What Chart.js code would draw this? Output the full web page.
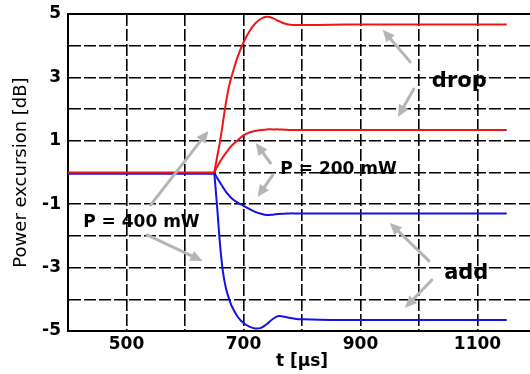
<!DOCTYPE html>
<html>
<head>
<meta charset="utf-8">
<script src="https://cdn.jsdelivr.net/npm/chart.js@4/dist/chart.umd.min.js"></script>
<style>
  html, body { margin: 0; padding: 0; background: #fff; overflow: hidden; }
  #wrap { position: relative; width: 545px; height: 374px; }
</style>
</head>
<body>
<div id="wrap"><canvas id="chart" width="545" height="374"></canvas></div>
<script>
// time axis [µs] for the transients, starting at the switching instant
const times = [650, 655, 660, 665, 670, 675, 680, 690, 700, 710, 720, 730, 740, 750, 760, 770, 780, 790, 800, 850, 900, 1000, 1100, 1150];

// steady state before switching
const steadyTimes = [400, 650];
const steadyLevel = [0, 0];

// power excursion [dB]
const drop400 = [0, 0.5, 1.0, 1.6, 2.2, 2.7, 3.05, 3.65, 4.1, 4.45, 4.7, 4.85, 4.91, 4.87, 4.78, 4.7, 4.66, 4.65, 4.65, 4.66, 4.67, 4.67, 4.67, 4.67];
const drop200 = [0, 0.18, 0.34, 0.49, 0.62, 0.74, 0.85, 1.02, 1.17, 1.26, 1.31, 1.34, 1.36, 1.36, 1.36, 1.35, 1.34, 1.34, 1.34, 1.34, 1.34, 1.34, 1.34, 1.34];
const add200 = [0, -0.17, -0.32, -0.47, -0.61, -0.72, -0.82, -0.95, -1.05, -1.15, -1.24, -1.3, -1.34, -1.33, -1.31, -1.3, -1.29, -1.29, -1.29, -1.29, -1.29, -1.29, -1.29, -1.29];
const add400 = [0, -1.1, -2.3, -3.15, -3.65, -3.97, -4.22, -4.55, -4.75, -4.86, -4.92, -4.9, -4.78, -4.62, -4.53, -4.55, -4.59, -4.62, -4.63, -4.65, -4.65, -4.65, -4.65, -4.65];

const xTickLabels = [500, 700, 900, 1100];
const yTickLabels = [5, 3, 1, -1, -3, -5];

const RED = "rgb(236,22,22)";
const BLUE = "rgb(18,18,226)";

const toPoints = (xs, ys) => xs.map((x, i) => ({ x: x, y: ys[i] }));

// grey annotation arrows: tail t, tail dB, head t, head dB
const arrows = [
    [541, -1.03, 640, 1.31],
    [535, -1.97, 630, -2.79],
    [746, 0.3, 721, 0.93],
    [750, -0.08, 724, -0.77],
    [985, 3.49, 938, 4.5],
    [991, 2.63, 964, 1.75],
    [1017, -2.79, 950, -1.59],
    [1022, -3.39, 976, -4.27]
];

const notes = [
    { text: "P = 400 mW", t: 426, v: -1.72, size: 17 },
    { text: "P = 200 mW", t: 763, v: -0.05, size: 17 },
    { text: "drop", t: 1022, v: 2.7, size: 21 },
    { text: "add", t: 1043, v: -3.36, size: 21 }
];

const annotate = {
    id: "annotate",
    afterDatasetsDraw(chart) {
        const ctx = chart.ctx;
        const xs = chart.scales.x;
        const ys = chart.scales.y;
        ctx.save();
        ctx.strokeStyle = "#b5b5b5";
        ctx.fillStyle = "#b5b5b5";
        ctx.lineWidth = 3;
        ctx.lineCap = "round";
        arrows.forEach(a => {
            const x1 = xs.getPixelForValue(a[0]), y1 = ys.getPixelForValue(a[1]);
            const x2 = xs.getPixelForValue(a[2]), y2 = ys.getPixelForValue(a[3]);
            const ang = Math.atan2(y2 - y1, x2 - x1);
            const len = 12, half = 5.5;
            const bx = x2 - len * Math.cos(ang), by = y2 - len * Math.sin(ang);
            ctx.beginPath();
            ctx.moveTo(x1, y1);
            ctx.lineTo(bx, by);
            ctx.stroke();
            ctx.beginPath();
            ctx.moveTo(x2, y2);
            ctx.lineTo(bx + half * Math.sin(ang), by - half * Math.cos(ang));
            ctx.lineTo(bx - half * Math.sin(ang), by + half * Math.cos(ang));
            ctx.closePath();
            ctx.fill();
        });
        ctx.fillStyle = "#000";
        ctx.textAlign = "left";
        ctx.textBaseline = "alphabetic";
        notes.forEach(n => {
            ctx.font = "bold " + n.size + "px 'DejaVu Sans'";
            ctx.fillText(n.text, xs.getPixelForValue(n.t), ys.getPixelForValue(n.v));
        });
        ctx.restore();
    }
};

const lineStyle = { pointRadius: 0, borderWidth: 2, fill: false, tension: 0.35 };

// first dataset is drawn on top, so red goes first
new Chart(document.getElementById("chart"), {
    type: "line",
    data: {
        datasets: [
            Object.assign({ data: toPoints(steadyTimes, steadyLevel), borderColor: RED }, lineStyle),
            Object.assign({ data: toPoints(times, drop400), borderColor: RED }, lineStyle),
            Object.assign({ data: toPoints(times, drop200), borderColor: RED }, lineStyle),
            Object.assign({ data: toPoints(times, add400), borderColor: BLUE }, lineStyle),
            Object.assign({ data: toPoints(times, add200), borderColor: BLUE }, lineStyle),
            Object.assign({ data: toPoints(steadyTimes, steadyLevel.map(v => v - 0.04)), borderColor: BLUE }, lineStyle)
        ]
    },
    options: {
        responsive: false,
        animation: false,
        devicePixelRatio: 1,
        layout: { padding: { top: 14, right: 9, left: 0, bottom: 0 } },
        plugins: { legend: { display: false }, tooltip: { enabled: false } },
        scales: {
            x: {
                type: "linear",
                min: 400,
                max: 1200,
                afterFit: s => { s.height = 43; s.paddingLeft = 0; s.paddingRight = 0; },
                ticks: {
                    stepSize: 100,
                    padding: 3,
                    color: "#000",
                    font: { family: "DejaVu Sans", size: 17, weight: "bold" },
                    callback: v => xTickLabels.includes(v) ? String(v) : ""
                },
                grid: { color: "#000", lineWidth: 1.6, drawTicks: false },
                border: { display: true, color: "#000", width: 2, dash: [12, 3] },
                title: {
                    display: true,
                    text: "t [µs]",
                    color: "#000",
                    padding: { top: 0, bottom: 2 },
                    font: { family: "DejaVu Sans", size: 17, weight: "bold" }
                }
            },
            x2: {
                type: "linear",
                position: "top",
                min: 400,
                max: 1200,
                afterFit: s => { s.height = 0; s.paddingLeft = 0; s.paddingRight = 0; },
                ticks: { display: false },
                grid: { display: false },
                border: { display: true, color: "#000", width: 2 }
            },
            y: {
                min: -5,
                max: 5,
                afterFit: s => { s.width = 68; s.paddingTop = 0; s.paddingBottom = 0; },
                ticks: {
                    stepSize: 1,
                    padding: 7,
                    color: "#000",
                    font: { family: "DejaVu Sans", size: 17, weight: "bold" },
                    callback: v => yTickLabels.includes(v) ? String(v) : ""
                },
                grid: { color: "#000", lineWidth: 1.6, drawTicks: false },
                border: { display: true, color: "#000", width: 2, dash: [12, 3] },
                title: {
                    display: true,
                    text: "Power excursion [dB]",
                    color: "#000",
                    padding: { top: 11, bottom: 0 },
                    font: { family: "DejaVu Sans", size: 18 }
                }
            }
        }
    },
    plugins: [annotate]
});
</script>
</body>
</html>
